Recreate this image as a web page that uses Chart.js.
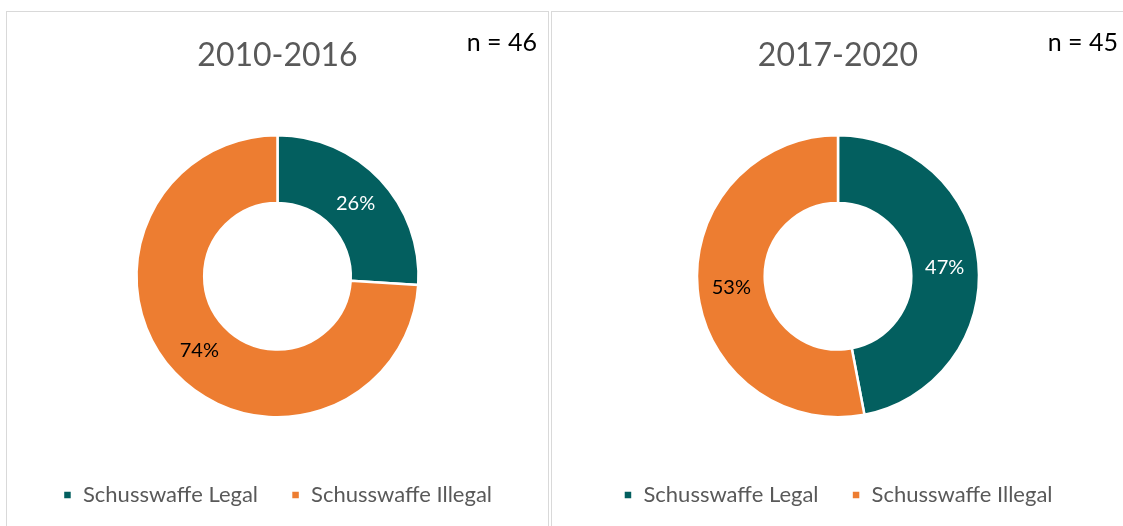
<!DOCTYPE html>
<html>
<head>
<meta charset="utf-8">
<title>Schusswaffe Legal / Illegal</title>
<script src="https://cdn.jsdelivr.net/npm/chart.js@4.4.1/dist/chart.umd.min.js"></script>
<style>
  html, body { margin: 0; padding: 0; background: #fff; overflow: hidden; }
  body { width: 1123px; height: 526px; position: relative; }
  .panel {
    position: absolute;
    top: 11px;
    height: 530px;
    box-sizing: border-box;
    border-top: 1px solid #d9d9d9;
    border-left: 1px solid #d9d9d9;
    border-right: 1px solid #d9d9d9;
  }
  #panelA { left: 6px; width: 543px; }
  #panelB { left: 551px; width: 574px; }
  canvas { display: block; }
</style>
</head>
<body>
<div class="panel" id="panelA"><canvas id="chartA" width="541" height="514"></canvas></div>
<div class="panel" id="panelB"><canvas id="chartB" width="572" height="514"></canvas></div>
<script>
// data
const periods = ['2010-2016', '2017-2020'];
const categories = ['Schusswaffe Legal', 'Schusswaffe Illegal'];
const shares2010 = [26, 74];
const shares2017 = [47, 53];
const sampleSizes = [46, 45];

const colors = ['#035f5f', '#ed7d31'];
const labelColors = ['#ffffff', '#000000'];

Chart.defaults.font.family = 'Lato';
Chart.defaults.animation = false;

// percent labels in the middle of each ring segment + "n = .." top right
const donutLabels = {
  id: 'donutLabels',
  afterDatasetsDraw(chart, args, opts) {
    const ctx = chart.ctx;
    const meta = chart.getDatasetMeta(0);
    const values = chart.data.datasets[0].data;
    ctx.save();
    ctx.font = '20px Lato';
    ctx.textAlign = 'center';
    ctx.textBaseline = 'middle';
    meta.data.forEach((arc, i) => {
      const p = arc.getCenterPoint();
      ctx.fillStyle = labelColors[i];
      ctx.fillText(values[i] + '%', p.x, p.y + 1);
    });
    ctx.font = '25px Lato';
    ctx.textAlign = 'right';
    ctx.fillStyle = '#000000';
    ctx.fillText('n = ' + opts.n, chart.width - opts.right, 31);
    ctx.restore();
  }
};

function makeChart(canvasId, title, shares, n, right) {
  const ctx = document.getElementById(canvasId).getContext('2d');
  return new Chart(ctx, {
    type: 'doughnut',
    data: {
      labels: categories,
      datasets: [{
        data: shares,
        backgroundColor: colors,
        borderColor: '#ffffff',
        borderWidth: 2.5
      }]
    },
    options: {
      responsive: false,
      cutout: '52%',
      radius: 141,
      layout: { padding: { top: 0, bottom: 10 } },
      plugins: {
        title: {
          display: true,
          text: title,
          color: '#595959',
          font: { size: 32, weight: 'normal' },
          padding: { top: 24, bottom: 27 }
        },
        legend: {
          position: 'bottom',
          labels: {
            color: '#595959',
            font: { size: 22 },
            boxWidth: 9,
            boxHeight: 9,
            padding: 33
          }
        },
        tooltip: { enabled: false },
        donutLabels: { n: n, right: right }
      }
    },
    plugins: [donutLabels]
  });
}

makeChart('chartA', periods[0], shares2010, sampleSizes[0], 11);
makeChart('chartB', periods[1], shares2017, sampleSizes[1], 6);
</script>
</body>
</html>
